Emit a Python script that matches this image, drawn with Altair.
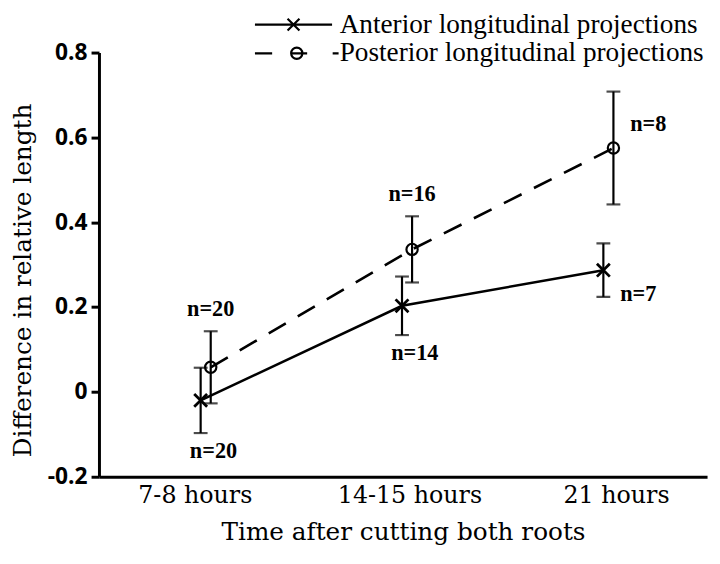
import json
import altair as alt
import pandas as pd

# ---- data ----
times = ["7-8 hours", "14-15 hours", "21 hours"]
series_names = ["Anterior longitudinal projections", "Posterior longitudinal projections"]
anterior_mean = [-0.02, 0.203, 0.287]
anterior_err = [0.077, 0.069, 0.063]
posterior_mean = [0.058, 0.336, 0.575]
posterior_err = [0.085, 0.078, 0.133]
anterior_n = [20, 14, 7]
posterior_n = [20, 16, 8]
anterior_place = ["below", "below", "lowright"]
posterior_place = ["above", "above", "upright"]
dodge = [-0.025, 0.025]
# where the category labels sit under the axis (slightly off the data columns)
label_pos = [0.946, 2.012, 3.038]

rows = []
for s, (means, errs, ns, places) in enumerate([
    (anterior_mean, anterior_err, anterior_n, anterior_place),
    (posterior_mean, posterior_err, posterior_n, posterior_place),
]):
    for i, t in enumerate(times):
        rows.append({
            "series": series_names[s],
            "time": t,
            "pos": i + 1 + dodge[s],
            "mean": means[i],
            "lo": means[i] - errs[i],
            "hi": means[i] + errs[i],
            "label": f"n={ns[i]}",
            "place": places[i],
        })
df = pd.DataFrame(rows)

SERIF = "DejaVu Serif"
X_PATH = "M-1,-1L1,1M-1,1L1,-1"
LEG_A = "M-6.5,0H6.5M-1,-1L1,1M-1,1L1,-1"
LEG_P = ("M-6.5,0H-3.6M-0.5,0H2.3M6.6,0H7.6"
         "M1.5,0A0.95,0.95 0 1 1 -0.4,0A0.95,0.95 0 1 1 1.5,0")

label_expr = "[" + ",".join(json.dumps(t) for t in times) + "][round(datum.value) - 1]"

x_enc = alt.X(
    "pos:Q",
    scale=alt.Scale(domain=[0.47, 3.49], nice=False, zero=False),
    axis=alt.Axis(
        values=label_pos, labelExpr=label_expr, ticks=False, grid=False,
        domainColor="black", domainWidth=3, labelColor="black",
        labelFont=SERIF, labelFontSize=24, labelPadding=7,
        title="Time after cutting both roots", titleFont=SERIF,
        titleFontSize=25, titleFontWeight="normal", titleColor="black",
        titlePadding=12,
    ),
)
y_scale = alt.Scale(domain=[-0.2, 0.8], nice=False, zero=False)
y_axis = alt.Axis(
    values=[-0.2, 0, 0.2, 0.4, 0.6, 0.8],
    labelExpr="datum.value == 0 ? '0' : (datum.value < 0 ? '-' : '') + format(abs(datum.value), '.1f')",
    grid=False, domainColor="black", domainWidth=3, tickColor="black",
    tickWidth=3, tickSize=8, labelColor="black", labelFont="Open Sans",
    labelFontWeight="bold", labelFontSize=23, labelPadding=4,
    title="Difference in relative length", titleFont=SERIF, titleFontSize=25,
    titleFontWeight="normal", titleColor="black", titleX=-77, titleY=230,
    titleBaseline="middle", titleAngle=-90,
)

base = alt.Chart(df)
is_a = alt.datum.series == series_names[0]
is_p = alt.datum.series == series_names[1]

line_a = base.transform_filter(is_a).mark_line(color="black", strokeWidth=2.6).encode(
    x=x_enc, y=alt.Y("mean:Q", scale=y_scale, axis=y_axis),
)
line_p = base.transform_filter(is_p).mark_line(
    color="black", strokeWidth=2.6, strokeDash=[20, 14]
).encode(x="pos:Q", y="mean:Q")

err = base.mark_rule(color="black", strokeWidth=2.2).encode(
    x="pos:Q", y="lo:Q", y2="hi:Q"
)
cap_lo = base.mark_tick(orient="horizontal", color="black", size=14, thickness=2.2).encode(
    x="pos:Q", y="lo:Q"
)
cap_hi = base.mark_tick(orient="horizontal", color="black", size=14, thickness=2.2).encode(
    x="pos:Q", y="hi:Q"
)

pts_a = base.transform_filter(is_a).mark_point(
    shape=X_PATH, size=170, filled=False, color="black", strokeWidth=2.8, opacity=1
).encode(x="pos:Q", y="mean:Q")
pts_p = base.transform_filter(is_p).mark_point(
    shape="circle", size=130, filled=False, color="black", strokeWidth=2.2, opacity=1
).encode(x="pos:Q", y="mean:Q")

TXT = dict(font="Liberation Serif", fontWeight="bold", fontSize=22.5, color="black")
t_above = base.transform_filter(alt.datum.place == "above").mark_text(
    align="center", baseline="alphabetic", dy=-15, **TXT
).encode(x="pos:Q", y="hi:Q", text="label:N")
t_below = base.transform_filter(alt.datum.place == "below").mark_text(
    align="center", baseline="alphabetic", dx=13, dy=25, **TXT
).encode(x="pos:Q", y="lo:Q", text="label:N")
t_upright = base.transform_filter(alt.datum.place == "upright").mark_text(
    align="left", baseline="alphabetic", dx=17, dy=-17, **TXT
).encode(x="pos:Q", y="mean:Q", text="label:N")
t_lowright = base.transform_filter(alt.datum.place == "lowright").mark_text(
    align="left", baseline="alphabetic", dx=17, dy=31, **TXT
).encode(x="pos:Q", y="mean:Q", text="label:N")

legend_layer = base.mark_point(opacity=0, filled=False).encode(
    x="pos:Q",
    y="mean:Q",
    shape=alt.Shape(
        "series:N",
        scale=alt.Scale(domain=series_names, range=[LEG_A, LEG_P]),
        legend=alt.Legend(
            title=None, orient="none", legendX=183, legendY=-42,
            symbolSize=144, symbolStrokeColor="black", symbolStrokeWidth=2.2,
            symbolFillColor="transparent", symbolOpacity=1,
            labelFont="Liberation Serif", labelFontSize=27.5, labelColor="black",
            labelLimit=600, labelOffset=33, rowPadding=0, padding=0,
            labelExpr="datum.label == '" + series_names[1]
                      + "' ? '\u00a0' + datum.label : datum.label",
        ),
    ),
)

chart = alt.layer(
    line_a, line_p, err, cap_lo, cap_hi, pts_a, pts_p,
    t_above, t_below, t_upright, t_lowright, legend_layer,
).properties(
    width=615, height=429,
    autosize=alt.AutoSizeParams(type="none"),
    padding={"left": 92, "top": 42, "right": 5, "bottom": 70},
    background="white",
).configure_view(stroke=None)

chart.save("out.html", embed_options={"renderer": "svg", "actions": False})
